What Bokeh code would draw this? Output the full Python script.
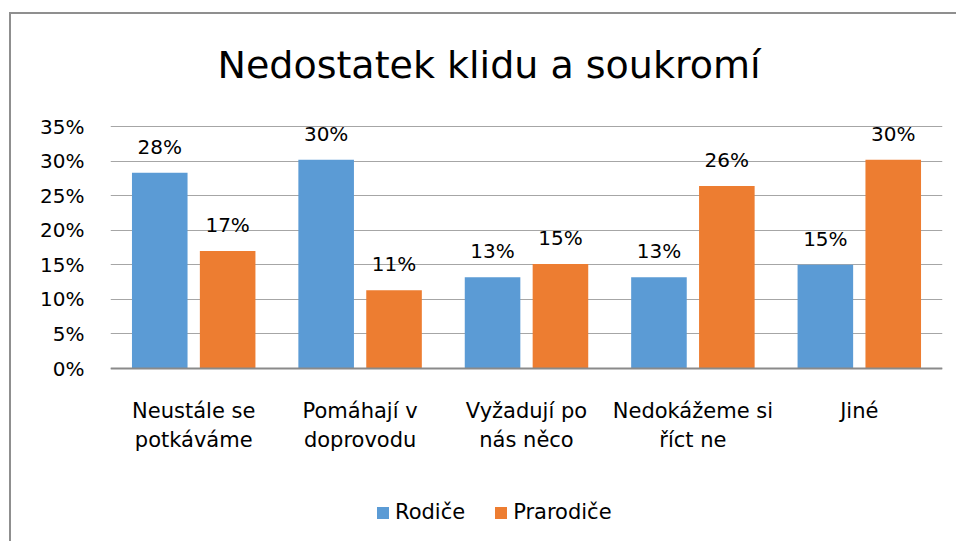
from bokeh.plotting import figure
from bokeh.models import (ColumnDataSource, FactorRange, Range1d, FixedTicker,
                          PrintfTickFormatter, LabelSet, Legend, LegendItem, Label, Span)
from bokeh.transform import dodge
from bokeh.core.properties import value
from bokeh.embed import file_html
from bokeh.resources import INLINE

# ---- data ----
categories = ["Neustále se\npotkáváme", "Pomáhají v\ndoprovodu", "Vyžadují po\nnás něco",
              "Nedokážeme si\nříct ne", "Jiné"]
series_names = ["Rodiče", "Prarodiče"]
rodice = [28.3, 30.2, 13.2, 13.2, 15.0]
prarodice = [17.0, 11.3, 15.1, 26.4, 30.2]
y_ticks = [0, 5, 10, 15, 20, 25, 30, 35]
title_text = "Nedostatek klidu a soukromí"

colors = ["#5B9BD5", "#ED7D31"]
FONT = "DejaVu Sans"

lines = [c.split("\n") + [""] * (2 - len(c.split("\n"))) for c in categories]
src = ColumnDataSource(dict(
    cat=categories,
    line1=[l[0] for l in lines],
    line2=[l[1] for l in lines],
    rodice=rodice,
    prarodice=prarodice,
    rodice_lbl=[f"{round(v)}%" for v in rodice],
    prarodice_lbl=[f"{round(v)}%" for v in prarodice],
))

# layout: value axis 0..35 spans 242 px; frame extended above/below for title, labels, legend
px_per_unit = 242 / 35
frame_h = 527
y_lo = -(173 / px_per_unit)
y_hi = y_lo + frame_h / px_per_unit

p = figure(x_range=FactorRange(*categories), y_range=Range1d(y_lo, y_hi),
           frame_width=832, frame_height=frame_h, output_backend="svg", toolbar_location=None,
           x_axis_location=None,
           min_border_left=99, min_border_right=14, min_border_top=0, min_border_bottom=0)
p.styles = {"border-left": "2px solid #8f8f8f", "border-top": "2px solid #8f8f8f",
            "margin-top": "12px", "margin-left": "9px"}
p.outline_line_color = None
p.background_fill_color = "white"
p.border_fill_color = "white"

off = 0.204
bw = 0.334
r1 = p.vbar(x=dodge("cat", -off, range=p.x_range), top="rodice", width=bw, source=src,
            fill_color=colors[0], line_color=None)
r2 = p.vbar(x=dodge("cat", off, range=p.x_range), top="prarodice", width=bw, source=src,
            fill_color=colors[1], line_color=None)

for col, o in (("rodice", -off), ("prarodice", off)):
    p.add_layout(LabelSet(x=dodge("cat", o, range=p.x_range), y=col, text=col + "_lbl",
                          source=src, text_align="center", text_baseline="alphabetic",
                          y_offset=19, text_font=value(FONT), text_font_size=value("20px"),
                          text_color="#000000"))

# value axis
p.yaxis.ticker = FixedTicker(ticks=y_ticks)
p.yaxis.formatter = PrintfTickFormatter(format="%d%%")
p.yaxis.axis_line_color = None
p.yaxis.major_tick_line_color = None
p.yaxis.minor_tick_line_color = None
p.yaxis.major_label_standoff = 20
p.yaxis.major_label_text_font = FONT
p.yaxis.major_label_text_font_size = "20px"
p.yaxis.major_label_text_color = "#000000"

p.xgrid.grid_line_color = None
p.ygrid.grid_line_color = "#a6a6a6"
p.ygrid.grid_line_width = 1

# category axis line and labels (two centred lines)
p.add_layout(Span(location=0, dimension="width", line_color="#8a8a8a", line_width=2))
for field, yo in (("line1", -30), ("line2", -59)):
    p.add_layout(LabelSet(x="cat", y=0, text=field, source=src, text_align="center",
                          text_baseline="top", y_offset=yo, text_font=value(FONT),
                          text_font_size=value("21px"), text_color="#000000"))

# title
p.add_layout(Label(x=107, y=477, x_units="screen", y_units="screen", text=title_text,
                   text_align="left", text_baseline="alphabetic", text_font=FONT,
                   text_font_size="38px", text_color="#000000"))

legend = Legend(items=[LegendItem(label=series_names[0], renderers=[r1]),
                       LegendItem(label=series_names[1], renderers=[r2])],
                orientation="horizontal", location=(265, 17),
                glyph_width=15, glyph_height=15, label_standoff=5, spacing=28,
                padding=0, margin=0, border_line_color=None, background_fill_alpha=0,
                label_text_font=FONT, label_text_font_size="21px", label_text_color="#000000")
p.add_layout(legend, "center")

open("out.html", "w").write(file_html(p, INLINE))
